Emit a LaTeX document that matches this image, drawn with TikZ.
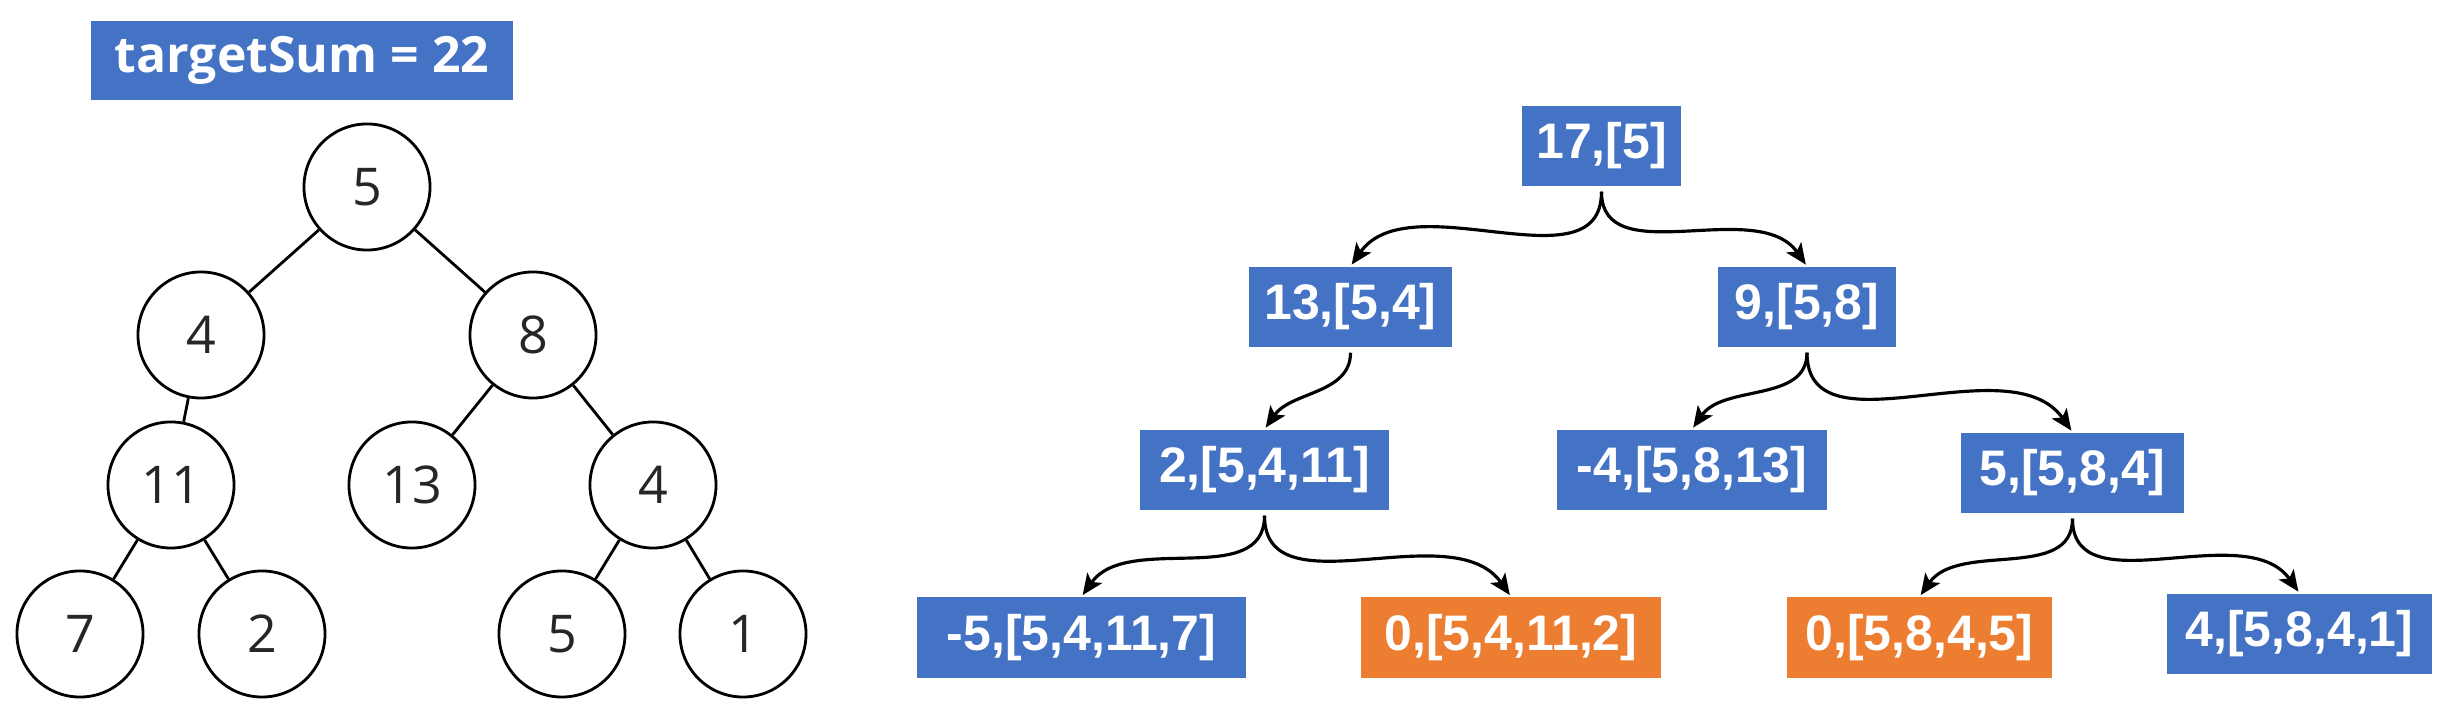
\documentclass[tikz,border=0pt]{standalone}
\usepackage{fontspec}
\setmainfont{Open Sans}
\newfontfamily\boxfont{Liberation Sans}
\newfontfamily\sumfont{Open Sans}
\usepackage{tikz}
\usetikzlibrary{arrows.meta}
\definecolor{pathblue}{HTML}{4472C4}
\definecolor{pathorange}{HTML}{ED7D31}
\tikzset{
    path sum/.style={
            x=0.01cm,y=-0.01cm,
            tnode/.style={circle,draw,line width=0.8pt,minimum size=1.26cm,inner sep=0pt,
                    text=black!85,font=\fontsize{14.8}{16}\selectfont},
            edge/.style={line width=0.8pt},
            sbox/.style={fill=pathblue,text=white,minimum height=0.8cm,inner sep=0pt,
                    font=\boxfont\bfseries\fontsize{14.2}{16}\selectfont},
            hit/.style={sbox,fill=pathorange},
            arrow/.style={-{Stealth[length=2.1mm,width=1.8mm,inset=0.5mm]},line width=0.9pt,
                    shorten <=0.05cm,shorten >=0.02cm},
            goleft/.style={arrow,out=-90,in=55},
            goright/.style={arrow,out=-90,in=125}
        }
    }

\begin{document}
\begin{tikzpicture}[path sum]
    \useasboundingbox (0,0) rectangle (2462,716);
    % the tree
    \node (target) [fill=pathblue,text=white,minimum width=4.22cm,minimum height=0.79cm,inner sep=0pt,
        font=\sumfont\bfseries\fontsize{14.2}{16}\selectfont] at (302,60.5) {targetSum = 22};
    \node (t5) [tnode] at (367,187) {5};
    \node (t4) [tnode] at (201,335) {4};
    \node (t8) [tnode] at (533,335) {8};
    \node (t11) [tnode] at (171,485) {11};
    \node (t13) [tnode] at (412,485) {13};
    \node (t4b) [tnode] at (653,485) {4};
    \node (t7) [tnode] at (80,634) {7};
    \node (t2) [tnode] at (262,634) {2};
    \node (t5b) [tnode] at (562,634) {5};
    \node (t1) [tnode] at (743,634) {1};
    \draw [edge] (t5) -- (t4);
    \draw [edge] (t5) -- (t8);
    \draw [edge] (t4) -- (t11);
    \draw [edge] (t8) -- (t13);
    \draw [edge] (t8) -- (t4b);
    \draw [edge] (t11) -- (t7);
    \draw [edge] (t11) -- (t2);
    \draw [edge] (t4b) -- (t5b);
    \draw [edge] (t4b) -- (t1);
    % remaining sum and path
    \node (s17) [sbox,minimum width=1.59cm] at (1601.5,146) {17,[5]};
    \node (s13) [sbox,minimum width=2.03cm] at (1350.5,307) {13,[5,4]};
    \node (s9) [sbox,minimum width=1.78cm] at (1807,307) {9,[5,8]};
    \node (s2) [sbox,minimum width=2.49cm] at (1264.5,470) {2,[5,4,11]};
    \node (sm4) [sbox,minimum width=2.70cm] at (1692,470) {-4,[5,8,13]};
    \node (s5) [sbox,minimum width=2.23cm] at (2072.5,473) {5,[5,8,4]};
    \node (sm5) [sbox,minimum width=3.29cm] at (1081.5,637.5) {-5,[5,4,11,7]};
    \node (s0a) [hit,minimum width=3.00cm] at (1511,637.5) {0,[5,4,11,2]};
    \node (s0b) [hit,minimum width=2.65cm] at (1919.5,637.5) {0,[5,8,4,5]};
    \node (s4) [sbox,minimum width=2.65cm] at (2299.5,634) {4,[5,8,4,1]};
    \draw [goleft] (s17.south) to (s13.north);
    \draw [goright] (s17.south) to (s9.north);
    \draw [goleft] (s13.south) to (s2.north);
    \draw [goleft] (s9.south) to (sm4.north);
    \draw [goright] (s9.south) to (s5.north);
    \draw [goleft] (s2.south) to (sm5.north);
    \draw [goright] (s2.south) to (s0a.north);
    \draw [goleft] (s5.south) to (s0b.north);
    \draw [goright] (s5.south) to (s4.north);
\end{tikzpicture}
\end{document}
